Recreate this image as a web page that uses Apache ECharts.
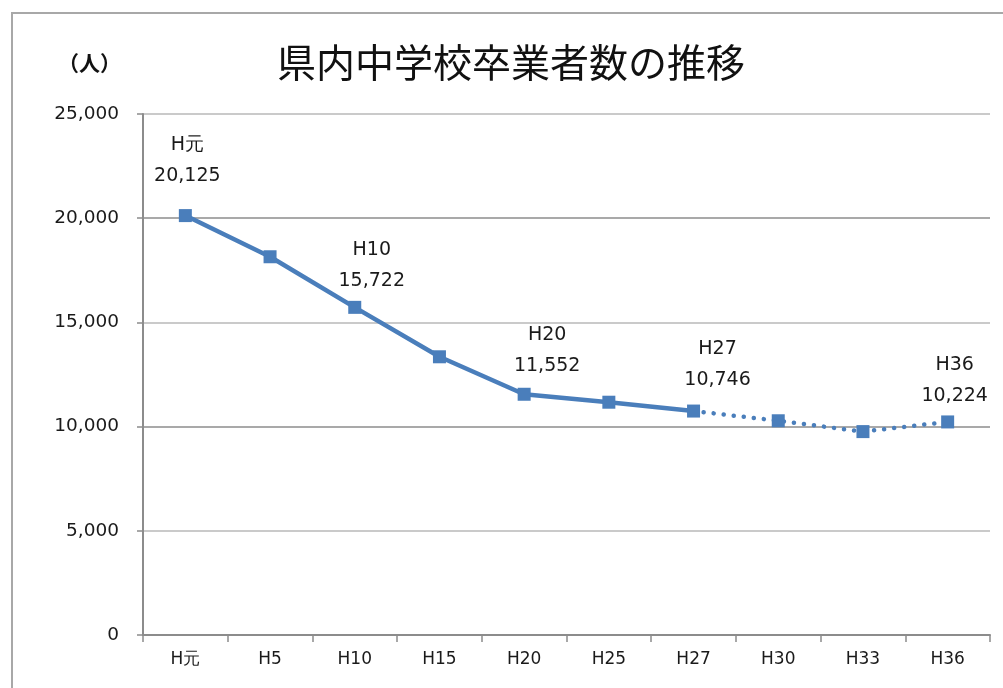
<!DOCTYPE html>
<html>
<head>
<meta charset="utf-8">
<script src="https://cdn.jsdelivr.net/npm/echarts@6/dist/echarts.min.js"></script>
<style>html,body{margin:0;padding:0;background:#fff;}#c{width:1003px;height:688px;}</style>
</head>
<body>
<div id="c"></div>
<script>
var categories = ['H元','H5','H10','H15','H20','H25','H27','H30','H33','H36'];
var values = [20125, 18150, 15722, 13350, 11552, 11170, 10746, 10280, 9760, 10224];
var actualCount = 7; // H元..H27 are actual; H30..H36 projected (dotted)
var labeledIndices = [0, 2, 4, 6, 9];
var yTicks = [0, 5000, 10000, 15000, 20000, 25000];

// label styling (kept separate from data)
var labelOffsets = {0:[2,-14], 2:[17,0], 4:[23,-2], 6:[24,-5], 9:[7,0]};

function fmt(v){ return v.toString().replace(/\B(?=(\d{3})+(?!\d))/g, ','); }

function buildData(from, to){
  return values.map(function(v, i){
    if (i < from || i > to) return null;
    var item = { value: v };
    if (labeledIndices.indexOf(i) >= 0) {
      item.label = { show: true, offset: labelOffsets[i] || [0,0] };
    }
    return item;
  });
}

var solidData = buildData(0, actualCount - 1);
var dottedData = buildData(actualCount - 1, values.length - 1).map(function(d, i){
  if (d && i === actualCount - 1) return { value: d.value, symbol: 'none' };
  return d;
});

var lineColor = '#4A7EBB';
var textColor = '#1a1a1a';
var labelStyle = {
  show: false,
  position: 'top',
  distance: 4,
  fontFamily: 'DejaVu Sans, sans-serif',
  fontSize: 19,
  lineHeight: 31,
  color: textColor,
  align: 'center',
  formatter: function(p){ return categories[p.dataIndex] + '\n' + fmt(p.value); }
};

var chart = echarts.init(document.getElementById('c'), null, {renderer: 'canvas'});
chart.setOption({
  backgroundColor: '#fff',
  animation: false,
  title: {
    text: '県内中学校卒業者数の推移',
    left: 272,
    top: 38,
    textStyle: {
      fontFamily: 'Noto Sans CJK JP, sans-serif',
      fontSize: 39,
      fontWeight: 'normal',
      color: '#111'
    }
  },
  graphic: [
    {
      type: 'rect',
      shape: { x: 12, y: 13, width: 1010, height: 700 },
      style: { fill: 'none', stroke: '#a8a8a8', lineWidth: 2 },
      silent: true
    },
    {
      type: 'text',
      left: 58,
      top: 53,
      style: {
        text: '（人）',
        font: 'bold 21px "Noto Sans CJK JP", sans-serif',
        fill: '#111'
      }
    }
  ],
  grid: { left: 143, right: 13, top: 114, bottom: 53, containLabel: false },
  xAxis: {
    type: 'category',
    data: categories,
    boundaryGap: true,
    axisLine: { show: true, lineStyle: { color: '#8c8c8c', width: 2 } },
    axisTick: { show: true, length: 7, lineStyle: { color: '#8c8c8c', width: 1.5 } },
    axisLabel: {
      margin: 16,
      fontFamily: 'DejaVu Sans, sans-serif',
      fontSize: 17,
      color: textColor
    },
    splitLine: { show: false }
  },
  yAxis: {
    type: 'value',
    min: yTicks[0],
    max: yTicks[yTicks.length - 1],
    interval: yTicks[1] - yTicks[0],
    axisLine: { show: true, lineStyle: { color: '#8c8c8c', width: 2 } },
    axisTick: { show: true, length: 6, lineStyle: { color: '#8c8c8c', width: 1.5 } },
    axisLabel: {
      margin: 24,
      fontFamily: 'DejaVu Sans, sans-serif',
      fontSize: 18.5,
      color: textColor,
      formatter: function(v){ return fmt(v); }
    },
    splitLine: { show: true, lineStyle: { color: ['#8c8c8c', '#b8b8b8'], width: 1.5 } }
  },
  series: [
    {
      type: 'line',
      data: solidData,
      connectNulls: false,
      symbol: 'rect',
      symbolSize: 13,
      itemStyle: { color: lineColor },
      lineStyle: { color: lineColor, width: 4.5 },
      label: labelStyle,
      z: 3
    },
    {
      type: 'line',
      data: dottedData,
      connectNulls: false,
      symbol: 'rect',
      symbolSize: 13,
      itemStyle: { color: lineColor },
      lineStyle: { color: lineColor, width: 4.5, type: [0.1, 10], cap: 'round' },
      label: labelStyle,
      z: 2
    }
  ]
});
</script>
</body>
</html>
